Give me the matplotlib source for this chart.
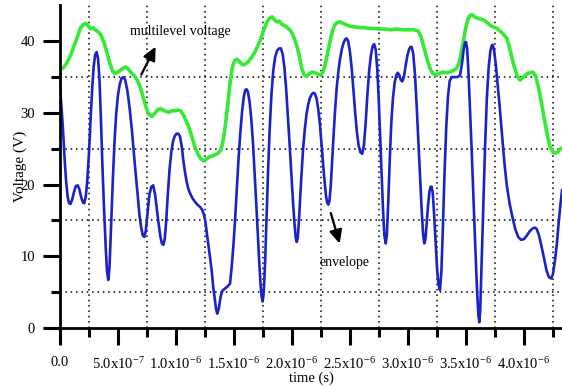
import matplotlib
matplotlib.use("Agg")
import matplotlib.pyplot as plt
import numpy as np

plt.rcParams["font.family"] = ["Liberation Serif", "DejaVu Serif"]
plt.rcParams["mathtext.fontset"] = "custom"
plt.rcParams["mathtext.rm"] = "Liberation Serif"
plt.rcParams["mathtext.it"] = "Liberation Serif:italic"

# multilevel voltage trace (time in microseconds, volts)
t_multi = [0.000, 0.030, 0.060, 0.090, 0.120, 0.150, 0.175, 0.200, 0.224, 0.245,
           0.265, 0.285, 0.305, 0.330, 0.355, 0.380, 0.405, 0.430, 0.455, 0.474,
           0.500, 0.525, 0.550, 0.570, 0.590, 0.615, 0.640, 0.665, 0.690, 0.715,
           0.740, 0.765, 0.793, 0.815, 0.840, 0.865, 0.890, 0.915, 0.940, 0.965,
           0.990, 1.015, 1.040, 1.065, 1.090, 1.115, 1.140, 1.165, 1.190, 1.215,
           1.240, 1.265, 1.290, 1.315, 1.340, 1.365, 1.385, 1.405, 1.425, 1.445,
           1.465, 1.485, 1.505, 1.525, 1.545, 1.565, 1.585, 1.605, 1.630, 1.655,
           1.680, 1.705, 1.730, 1.755, 1.780, 1.805, 1.828, 1.850, 1.870, 1.890,
           1.910, 1.935, 1.960, 1.985, 2.005, 2.025, 2.045, 2.065, 2.085, 2.105,
           2.125, 2.150, 2.175, 2.200, 2.225, 2.250, 2.270, 2.290, 2.310, 2.330,
           2.350, 2.370, 2.390, 2.414, 2.440, 2.470, 2.500, 2.540, 2.580, 2.620,
           2.660, 2.700, 2.750, 2.800, 2.850, 2.900, 2.950, 3.000, 3.050, 3.090,
           3.115, 3.140, 3.165, 3.190, 3.215, 3.240, 3.270, 3.300, 3.330, 3.360,
           3.390, 3.420, 3.445, 3.470, 3.495, 3.515, 3.535, 3.552, 3.575, 3.600,
           3.630, 3.660, 3.690, 3.720, 3.767, 3.810, 3.853, 3.880, 3.910, 3.940,
           3.966, 3.995, 4.030, 4.078, 4.100, 4.125, 4.150, 4.175, 4.200, 4.225,
           4.250, 4.267, 4.290, 4.310, 4.328]
v_multi = [36.1, 36.3, 37.0, 38.0, 39.3, 40.6, 41.8, 42.3, 42.5, 42.1,
           41.7, 41.9, 41.6, 41.3, 40.8, 39.8, 38.4, 36.9, 35.8, 35.5,
           35.7, 36.0, 36.3, 36.4, 36.1, 35.6, 35.2, 34.6, 33.7, 32.3,
           30.9, 29.8, 29.5, 29.9, 30.4, 30.6, 30.4, 30.2, 30.1, 30.3,
           30.3, 30.4, 30.3, 29.7, 28.8, 27.8, 26.5, 25.2, 24.2, 23.6,
           23.3, 23.6, 23.9, 24.0, 24.2, 24.4, 24.8, 26.0, 28.2, 31.0,
           34.0, 36.3, 37.3, 37.5, 37.2, 36.8, 36.7, 36.9, 37.3, 37.8,
           38.5, 39.3, 40.3, 41.5, 42.6, 43.2, 43.4, 43.0, 42.7, 42.8,
           42.4, 42.2, 41.9, 41.5, 41.0, 40.2, 39.2, 37.8, 36.2, 35.3,
           35.1, 35.5, 35.7, 35.6, 35.4, 35.3, 35.8, 37.0, 38.6, 40.1,
           41.5, 42.3, 42.6, 42.7, 42.5, 42.3, 42.1, 42.0, 41.9, 41.9,
           41.8, 41.8, 41.7, 41.7, 41.6, 41.7, 41.6, 41.6, 41.6, 41.4,
           40.5, 39.0, 37.5, 36.2, 35.5, 35.3, 35.5, 35.7, 35.6, 35.7,
           35.9, 36.2, 37.2, 39.3, 41.6, 43.0, 43.6, 43.7, 43.4, 43.2,
           43.1, 42.9, 42.5, 42.1, 41.8, 41.2, 40.4, 38.8, 36.8, 35.2,
           34.6, 35.0, 35.5, 35.7, 35.2, 33.6, 31.5, 29.2, 27.0, 25.3,
           24.5, 24.4, 24.5, 24.9, 25.1]

# envelope trace (time in microseconds, volts)
t_env = [0.000, 0.013, 0.026, 0.040, 0.052, 0.066, 0.078, 0.090, 0.105, 0.121,
         0.137, 0.153, 0.168, 0.183, 0.198, 0.209, 0.222, 0.235, 0.250, 0.265,
         0.278, 0.290, 0.303, 0.316, 0.328, 0.340, 0.352, 0.365, 0.380, 0.395,
         0.405, 0.416, 0.427, 0.440, 0.455, 0.470, 0.485, 0.500, 0.515, 0.530,
         0.546, 0.562, 0.580, 0.600, 0.620, 0.642, 0.665, 0.685, 0.700, 0.714,
         0.727, 0.740, 0.755, 0.770, 0.787, 0.804, 0.820, 0.835, 0.850, 0.865,
         0.878, 0.891, 0.903, 0.916, 0.930, 0.945, 0.960, 0.975, 0.990, 1.005,
         1.020, 1.035, 1.050, 1.063, 1.077, 1.092, 1.107, 1.121, 1.142, 1.164,
         1.185, 1.207, 1.225, 1.241, 1.253, 1.264, 1.285, 1.307, 1.322, 1.336,
         1.346, 1.356, 1.370, 1.385, 1.400, 1.422, 1.445, 1.466, 1.480, 1.495,
         1.509, 1.525, 1.540, 1.555, 1.570, 1.585, 1.597, 1.609, 1.621, 1.635,
         1.650, 1.665, 1.680, 1.698, 1.715, 1.728, 1.738, 1.747, 1.756, 1.768,
         1.780, 1.793, 1.808, 1.823, 1.838, 1.855, 1.872, 1.889, 1.905, 1.920,
         1.935, 1.950, 1.965, 1.980, 1.995, 2.010, 2.022, 2.032, 2.041, 2.050,
         2.062, 2.078, 2.095, 2.110, 2.125, 2.140, 2.155, 2.170, 2.185, 2.198,
         2.212, 2.226, 2.241, 2.258, 2.276, 2.292, 2.303, 2.313, 2.323, 2.335,
         2.353, 2.370, 2.385, 2.400, 2.414, 2.430, 2.445, 2.460, 2.472, 2.485,
         2.500, 2.515, 2.530, 2.545, 2.560, 2.575, 2.590, 2.606, 2.620, 2.635,
         2.650, 2.665, 2.680, 2.695, 2.709, 2.722, 2.735, 2.748, 2.760, 2.772,
         2.785, 2.796, 2.808, 2.818, 2.830, 2.843, 2.856, 2.870, 2.885, 2.900,
         2.911, 2.925, 2.938, 2.951, 2.965, 2.980, 2.995, 3.010, 3.022, 3.032,
         3.045, 3.060, 3.075, 3.090, 3.105, 3.118, 3.130, 3.141, 3.150, 3.160,
         3.172, 3.185, 3.195, 3.204, 3.214, 3.225, 3.238, 3.250, 3.262, 3.276,
         3.288, 3.300, 3.315, 3.330, 3.345, 3.360, 3.377, 3.400, 3.425, 3.448,
         3.465, 3.480, 3.492, 3.500, 3.510, 3.522, 3.535, 3.550, 3.565, 3.580,
         3.595, 3.607, 3.615, 3.623, 3.635, 3.650, 3.665, 3.680, 3.695, 3.710,
         3.722, 3.730, 3.742, 3.757, 3.772, 3.790, 3.810, 3.830, 3.851, 3.875,
         3.900, 3.925, 3.950, 3.975, 4.000, 4.025, 4.050, 4.075, 4.095, 4.110,
         4.130, 4.150, 4.172, 4.195, 4.215, 4.235, 4.250, 4.268, 4.284, 4.300,
         4.315, 4.328]
v_env = [33.5, 30.8, 27.6, 23.5, 20.6, 18.3, 17.4, 17.3, 17.9, 19.0,
         19.8, 19.9, 19.3, 18.2, 17.5, 17.4, 18.3, 20.5, 24.5, 29.5,
         33.5, 36.4, 38.1, 38.5, 37.6, 34.8, 29.5, 23.0, 16.5, 11.0,
         8.0, 6.7, 8.5, 14.0, 20.5, 26.0, 30.0, 32.5, 34.0, 34.8,
         35.0, 34.6, 33.2, 30.7, 27.6, 23.4, 19.3, 15.8, 14.0, 12.9,
         12.7, 13.6, 16.0, 18.5, 19.7, 19.9, 18.6, 16.6, 14.6, 12.8,
         11.8, 11.6, 12.4, 15.0, 18.8, 22.2, 24.6, 26.1, 26.8, 27.1,
         27.1, 26.7, 25.3, 23.4, 21.8, 20.4, 19.4, 18.8, 18.1, 17.6,
         17.2, 16.9, 16.5, 15.8, 14.9, 13.5, 10.8, 8.1, 5.6, 3.9,
         2.6, 2.0, 2.8, 4.4, 5.2, 5.5, 5.8, 6.2, 8.5, 11.5,
         15.0, 19.5, 23.8, 27.3, 30.2, 32.3, 33.2, 33.3, 32.9, 31.5,
         29.0, 25.5, 21.0, 15.5, 10.0, 6.3, 4.4, 3.7, 4.8, 9.0,
         15.0, 21.5, 27.8, 32.6, 35.8, 37.8, 38.7, 39.0, 39.0, 38.2,
         36.3, 33.3, 29.5, 25.5, 21.3, 17.3, 14.5, 12.6, 12.0, 12.6,
         15.5, 20.3, 24.8, 27.6, 29.8, 31.2, 32.1, 32.6, 32.8, 32.7,
         32.0, 30.6, 28.4, 25.0, 21.4, 18.6, 17.5, 17.2, 17.7, 20.0,
         25.3, 30.0, 33.4, 35.8, 37.5, 38.9, 39.8, 40.3, 40.4, 40.0,
         38.5, 36.2, 33.2, 30.0, 27.3, 25.4, 24.5, 24.3, 25.5, 28.5,
         32.5, 35.8, 38.0, 39.3, 39.6, 38.8, 36.2, 31.8, 26.8, 21.5,
         16.5, 13.0, 11.8, 13.0, 17.5, 23.5, 28.5, 32.0, 34.2, 35.3,
         35.6, 35.3, 34.6, 34.4, 35.0, 36.6, 38.0, 38.9, 39.2, 39.2,
         38.3, 35.5, 31.0, 26.0, 21.0, 16.5, 13.2, 11.8, 12.3, 14.3,
         16.9, 19.0, 19.7, 19.7, 18.8, 16.0, 12.0, 8.5, 6.2, 5.3,
         7.8, 13.5, 21.5, 28.0, 32.3, 34.5, 35.0, 35.0, 35.0, 35.2,
         36.8, 38.8, 39.8, 39.9, 39.0, 35.5, 30.5, 24.5, 18.0, 11.5,
         5.5, 1.8, 0.8, 2.5, 9.0, 17.5, 25.5, 32.0, 36.2, 38.6,
         39.4, 39.5, 38.8, 36.8, 34.2, 31.0, 27.2, 23.3, 20.0, 17.5,
         15.5, 13.8, 12.7, 12.3, 12.4, 12.9, 13.5, 13.9, 14.0, 13.8,
         12.9, 11.5, 9.8, 8.0, 7.1, 6.9, 7.5, 9.5, 11.8, 14.8,
         17.3, 19.2]

x_major = [0.0, 0.5, 1.0, 1.5, 2.0, 2.5, 3.0, 3.5, 4.0]
x_labels = ["0.0", "5.0x10$^{-7}$", "1.0x10$^{-6}$", "1.5x10$^{-6}$", "2.0x10$^{-6}$",
            "2.5x10$^{-6}$", "3.0x10$^{-6}$", "3.5x10$^{-6}$", "4.0x10$^{-6}$"]
x_minor = [0.25, 0.75, 1.25, 1.75, 2.25, 2.75, 3.25, 3.75, 4.25]
y_major = [0, 10, 20, 30, 40]
y_minor = [5, 15, 25, 35]

us = 1e-6

fig = plt.figure(figsize=(5.62, 3.87), dpi=100)
ax = fig.add_axes([60 / 562, 1 - 328 / 387, 1 - 60 / 562, (328 - 5.4) / 387])

ax.plot(np.array(t_multi) * us, v_multi, color="#35ea35", lw=2.6, solid_joinstyle="round")
ax.plot(np.array(t_env) * us, v_env, color="#1a22c8", lw=1.9, solid_joinstyle="round")

ax.set_xlim(0, 4.328 * us)
ax.set_ylim(0, 45)

ax.set_xticks(np.array(x_major) * us)
ax.set_xticklabels(x_labels)
ax.set_xticks(np.array(x_minor) * us, minor=True)
ax.set_yticks(y_major)
ax.set_yticks(y_minor, minor=True)

ax.grid(which="minor", color="black", linestyle=(0, (1, 2.5)), linewidth=1.1)

for side in ("top", "right"):
    ax.spines[side].set_visible(False)
for side in ("left", "bottom"):
    ax.spines[side].set_linewidth(2)

ax.tick_params(which="major", direction="out", length=12, width=2.2, labelsize=10.5)
ax.tick_params(which="minor", direction="out", length=6.5, width=2.2)
ax.tick_params(axis="x", which="major", pad=8)
ax.tick_params(axis="y", which="major", pad=6)

ax.set_xlabel("time (s)", fontsize=10.5)
ax.xaxis.set_label_coords(0.5, -0.155)
ax.xaxis.label.set_va("center")
ax.set_ylabel("Voltage (V)", fontsize=11)
ax.yaxis.set_label_coords(-0.08, 0.5)
ax.yaxis.label.set_va("center")

arrow_style = dict(arrowstyle="-|>,head_length=0.8,head_width=0.38", color="black", lw=1.7)
ax.text(0.603 * us, 41.3, "multilevel voltage", fontsize=10, va="center", ha="left")
ax.annotate("", xy=(0.835 * us, 39.6), xytext=(0.690 * us, 35.0), arrowprops=arrow_style)
ax.text(2.233 * us, 9.1, "envelope", fontsize=10, va="center", ha="left")
ax.annotate("", xy=(2.418 * us, 11.4), xytext=(2.328 * us, 16.4), arrowprops=arrow_style)

fig.savefig("out.png", dpi=100)
